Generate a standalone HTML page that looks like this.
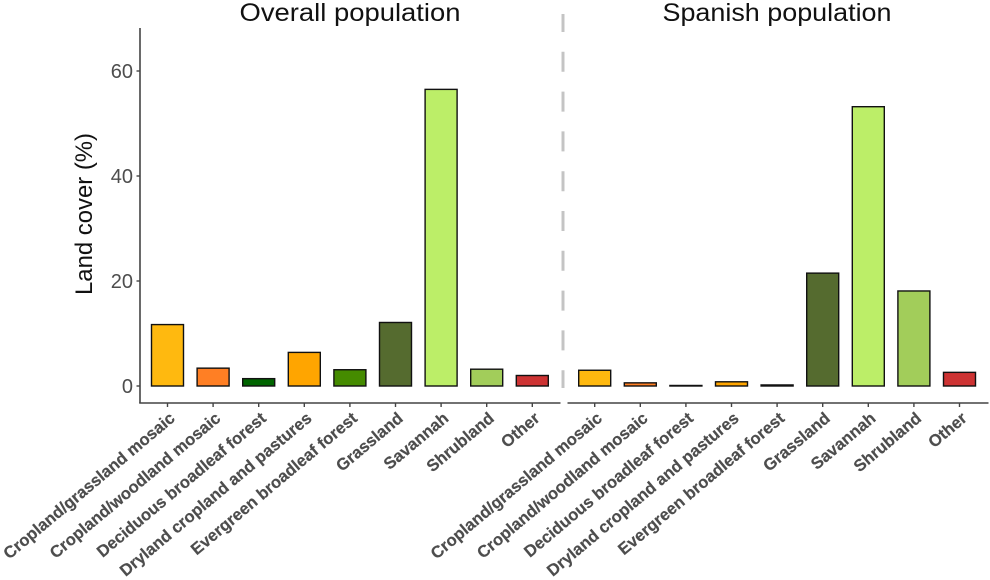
<!DOCTYPE html>
<html lang="en">
<head>
<meta charset="utf-8">
<title>Land cover by population</title>
<style>
html,body{margin:0;padding:0;background:#fff;width:990px;height:580px;overflow:hidden}
svg{display:block;font-family:"Liberation Sans",sans-serif}
</style>
</head>
<body>
<svg id="chart" width="990" height="580" viewBox="0 0 990 580" xmlns="http://www.w3.org/2000/svg">
<text x="350" y="21" text-anchor="middle" font-size="25" fill="#111" textLength="221" lengthAdjust="spacingAndGlyphs">Overall population</text>
<text x="777" y="21" text-anchor="middle" font-size="25" fill="#111" textLength="229" lengthAdjust="spacingAndGlyphs">Spanish population</text>
<text transform="translate(92,214) rotate(-90)" text-anchor="middle" font-size="24" fill="#111" textLength="162" lengthAdjust="spacingAndGlyphs">Land cover (%)</text>
<line x1="563" y1="14" x2="563" y2="388" stroke="#c4c4c4" stroke-width="3" stroke-dasharray="20 19.8" stroke-dashoffset="2"></line>
<line x1="140" y1="28" x2="140" y2="403" stroke="#444" stroke-width="1.6"></line>
<line x1="139.2" y1="403" x2="560.5" y2="403" stroke="#444" stroke-width="1.6"></line>
<line x1="567.5" y1="403" x2="988.5" y2="403" stroke="#444" stroke-width="1.6"></line>
<g id="y-ticks"></g>
<g id="panel-overall"></g>
<g id="panel-spanish"></g>
</svg>
<script>
const categories = ["Cropland/grassland mosaic","Cropland/woodland mosaic","Deciduous broadleaf forest","Dryland cropland and pastures","Evergreen broadleaf forest","Grassland","Savannah","Shrubland","Other"];
const categoryColors = ["#ffb90f","#ff7f24","#006400","#ffa500","#458b00","#556b2f","#bcee68","#a2cd5a","#cd3333"];
const overallValues = [11.7,3.4,1.4,6.4,3.1,12.1,56.5,3.2,2.0];
const spanishValues = [3.0,0.6,0.1,0.8,0.2,21.5,53.2,18.1,2.6];
const yTickValues = [0,20,40,60];

const NS = "http://www.w3.org/2000/svg";
const svg = document.getElementById("chart");
const yScale = function (v) { return 386 - v * 5.25; };
const xOverall = function (i) { return 167.5 + i * 45.6; };
const xSpanish = function (i) { return 594.7 + i * 45.6; };
const BAR_WIDTH = 32;

function make(tag, attrs, parent) {
  const el = document.createElementNS(NS, tag);
  Object.keys(attrs).forEach(function (k) { el.setAttribute(k, attrs[k]); });
  parent.appendChild(el);
  return el;
}

const yGroup = document.getElementById("y-ticks");
yTickValues.forEach(function (v) {
  const mark = make("line", {x1: 136.5, x2: 140, y1: yScale(v), y2: yScale(v), stroke: "#444", "stroke-width": 1.4}, yGroup);
  
  
  const label = make("text", {x: 133, y: yScale(v) + 7, "text-anchor": "end", "font-size": 20, fill: "#4d4d4d"}, yGroup);
  
  
  label.textContent = String(v);
});

function drawPanel(group, values, xScale) {
  values.forEach(function (v, i) {
    const cx = xScale(i);
    const bar = make("rect", {x: cx - BAR_WIDTH / 2, y: yScale(v), width: BAR_WIDTH, height: yScale(0) - yScale(v), fill: categoryColors[i], stroke: "#111", "stroke-width": 1.4}, group);
    
    
    const tick = make("line", {x1: cx, x2: cx, y1: 403, y2: 407, stroke: "#444", "stroke-width": 1.4}, group);
    
    
    const label = make("text", {transform: "translate(" + (cx + 8.5) + ",420) rotate(-40)", "text-anchor": "end", "font-size": 16.6, "font-weight": "bold", fill: "#4d4d4d", stroke: "#4d4d4d", "stroke-width": 0.2}, group);
    
    
    label.textContent = categories[i];
  });
}
drawPanel(document.getElementById("panel-overall"), overallValues, xOverall);
drawPanel(document.getElementById("panel-spanish"), spanishValues, xSpanish);
</script>
</body>
</html>
